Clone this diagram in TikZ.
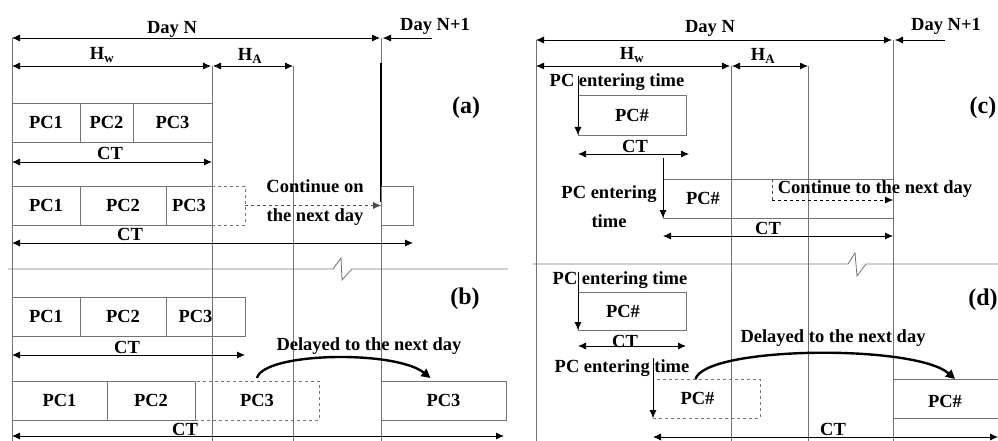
\documentclass[tikz,border=0pt]{standalone}
\usepackage{fontspec}
\setmainfont{Liberation Serif}
\usetikzlibrary{arrows.meta,positioning}

\begin{document}
\begin{tikzpicture}
		[
			x=1pt, y=-1pt,
			>={Latex[length=8pt,width=7pt]},
			every node/.style={font=\fontsize{18.5}{22}\selectfont\bfseries, inner sep=0pt, outer sep=0pt},
			txt/.style={anchor=base},
			twoline/.style={align=center, font=\fontsize{18.5}{29}\selectfont\bfseries},
			grid/.style={draw=black!55, line width=0.8pt},
			pcbox/.style={draw=black!55, line width=0.8pt, minimum height=39pt},
			dashbox/.style={pcbox, dashed},
			dim/.style={<->, line width=0.8pt},
			enter/.style={->, line width=0.8pt},
			delay/.style={-{Triangle[length=9pt,width=9pt]}, line width=2.4pt},
			tag/.style={font=\fontsize{24}{27}\selectfont\bfseries}
		]
		\useasboundingbox (0,0) rectangle (998,441);

		% left half: time axis
		\coordinate (dayL) at (12,38);
		\coordinate (endL) at (381,38);
		\coordinate (nextL) at (432,38);
		\coordinate (hwL) at (12,66);
		\coordinate (hwendL) at (212,66);
		\coordinate (haendL) at (293,66);
		\foreach \x/\t in {12/38, 212/66, 293/66, 381/38}
			\draw[grid] (\x,\t) -- (\x,441);
		\draw[line width=1.1pt] (381,63) -- (381,202);

		\node[txt] (daynL) at (172,34) {Day N};
		\node[txt] (nextdayL) at (435,31) {Day N+1};
		\node[txt] (hwtL) at (102,60) {H\textsubscript{w}};
		\node[txt] (hatL) at (250,61) {H\textsubscript{A}};
		\draw[dim] (dayL) -- ([xshift=-1pt]endL);
		\draw[->] (nextL) -- ([xshift=2pt]endL);
		\draw[dim] (hwL) -- ([xshift=-1pt]hwendL);
		\draw[dim] ([xshift=1pt]hwendL) -- (haendL);

		% (a)
		\node[pcbox, minimum width=68pt, anchor=north west] (a11) at (12,103) {PC1};
		\node[pcbox, minimum width=53pt, right=0pt of a11] (a12) {PC2};
		\node[pcbox, minimum width=79pt, right=0pt of a12] (a13) {PC3};
		\draw[dim] ([yshift=-20pt]a11.south west) -- ([yshift=-20pt]a13.south east);
		\node[txt] (cta1) at (110,159) {CT};

		\node[pcbox, minimum width=68pt, anchor=north west] (a21) at (12,186) {PC1};
		\node[pcbox, minimum width=86pt, right=0pt of a21] (a22) {PC2};
		\node[pcbox, minimum width=46pt, right=0pt of a22] (a23) {PC3};
		\node[dashbox, minimum width=33pt, right=0pt of a23] (a24) {};
		\node[pcbox, minimum width=32pt, anchor=north west] (a25) at (381,186) {};
		\draw[->, dashed, draw=black!70] (a24.east) -- (a25.west);
		\node[twoline] (conta) at (315,203) {Continue on\\the next day};
		\draw[dim] ([yshift=-18pt]a21.south west) -- ([yshift=-18pt]a25.south east);
		\node[txt] (cta2) at (130,240) {CT};
		\node[tag] (taga) at (466,108) {(a)};

		\draw[grid] (8,269) -- (333,269) -- (341,258) -- (342,280) -- (352,269) -- (508,269);

		% (b)
		\node[pcbox, minimum width=68pt, anchor=north west] (b11) at (12,297) {PC1};
		\node[pcbox, minimum width=86pt, right=0pt of b11] (b12) {PC2};
		\node[pcbox, minimum width=79pt, right=0pt of b12, label={[xshift=-10pt]center:PC3}] (b13) {};
		\draw[dim] ([yshift=-19pt]b11.south west) -- ([yshift=-19pt]b13.south east);
		\node[txt] (ctb1) at (127,353) {CT};
		\node[txt] (delb) at (369,350) {Delayed to the next day};

		\node[pcbox, minimum width=95pt, anchor=north west] (b21) at (12,381) {PC1};
		\node[pcbox, minimum width=88pt, right=0pt of b21] (b22) {PC2};
		\node[dashbox, minimum width=124pt, right=0pt of b22] (b23) {PC3};
		\node[pcbox, minimum width=125pt, anchor=north west] (b24) at (381,381) {PC3};
		\draw[delay] ([yshift=3pt]b23.north) .. controls +(7,-26) and +(-35,-28) .. ([xshift=-13pt, yshift=3pt]b24.north);
		\draw[dim] ([yshift=-16pt]b21.south west) -- ([yshift=-16pt, xshift=-2pt]b24.south east);
		\node[txt] (ctb2) at (185,435) {CT};
		\node[tag] (tagb) at (465,299) {(b)};

		% right half: time axis
		\coordinate (dayR) at (536,40);
		\coordinate (endR) at (893,40);
		\coordinate (nextR) at (945,40);
		\coordinate (hwR) at (536,66);
		\coordinate (hwendR) at (731,66);
		\coordinate (haendR) at (808,66);
		\foreach \x/\t in {536/40, 731/66, 808/66, 893/40}
			\draw[grid] (\x,\t) -- (\x,441);

		\node[txt] (daynR) at (710,33) {Day N};
		\node[txt] (nextdayR) at (946,31) {Day N+1};
		\node[txt] (hwtR) at (632,60) {H\textsubscript{w}};
		\node[txt] (hatR) at (763,61) {H\textsubscript{A}};
		\draw[dim] (dayR) -- ([xshift=-1pt]endR);
		\draw[->] (nextR) -- ([xshift=2pt]endR);
		\draw[dim] (hwR) -- ([xshift=-1pt]hwendR);
		\draw[dim] ([xshift=1pt]hwendR) -- (haendR);

		% (c)
		\node[txt] (entc1) at (617,87) {PC entering time};
		\node[pcbox, minimum width=108pt, minimum height=40pt, anchor=north west] (c11) at (578,95) {PC\#};
		\coordinate (c11top) at (578,76);
		\draw[enter] (c11top) -- (c11.south west);
		\draw[dim] ([yshift=-19pt]c11.south west) -- ([yshift=-19pt, xshift=3pt]c11.south east);
		\node[txt] (ctc1) at (635,152) {CT};

		\node[pcbox, minimum width=230pt, anchor=north west, label={[xshift=-75pt]center:PC\#}] (c21) at (663,179) {};
		\node[twoline] (entc2) at (609,207) {PC entering\\time};
		\coordinate (c21top) at (663,158);
		\draw[enter] (c21top) -- (c21.south west);
		\coordinate (cont2) at (772,200);
		\draw[dashed, draw=black!70] (c21.north -| cont2) -- (cont2);
		\draw[->, dashed] (cont2) -- (c21.east |- cont2);
		\node[txt] (contc) at (875,193) {Continue to the next day};
		\draw[dim] ([yshift=-18pt]c21.south west) -- ([yshift=-18pt]c21.south east);
		\node[txt] (ctc2) at (768,234) {CT};
		\node[tag] (tagc) at (983,108) {(c)};

		\draw[grid] (533,264) -- (848,264) -- (855,253) -- (857,276) -- (866,264) -- (998,264);

		% (d)
		\node[txt] (entd1) at (620,284) {PC entering time};
		\node[pcbox, minimum width=108pt, minimum height=38pt, anchor=north west, label={[xshift=-9pt]center:PC\#}] (d11) at (578,292) {};
		\coordinate (d11top) at (578,272);
		\draw[enter] (d11top) -- (d11.south west);
		\draw[dim] ([yshift=-16pt]d11.south west) -- ([yshift=-16pt]d11.south east);
		\node[txt] (ctd1) at (625,347) {CT};

		\node[txt] (entd2) at (622,372) {PC entering time};
		\node[dashbox, minimum width=107pt, anchor=north west, label={[xshift=-9pt]center:PC\#}] (d21) at (653,379) {};
		\coordinate (d21top) at (653,358);
		\draw[enter] (d21top) -- (d21.south west);
		\coordinate (d22) at (893,379);
		\coordinate (d22top) at (955,379);
		\draw[grid] (998,379) -| (893,418) -- (998,418);
		\node[txt] (d22t) at (945,407) {PC\#};
		\node[txt] (deld) at (833,342) {Delayed to the next day};
		\draw[delay] ([xshift=-11pt]d21.north) .. controls +(10,-33) and +(-40,-35) .. (d22top);
		\coordinate (edgeR) at (998,437);
		\draw[dim] ([yshift=-19pt]d21.south west) -- (edgeR);
		\node[txt] (ctd2) at (833,435) {CT};
		\node[tag] (tagd) at (983,300) {(d)};
\end{tikzpicture}
\end{document}
